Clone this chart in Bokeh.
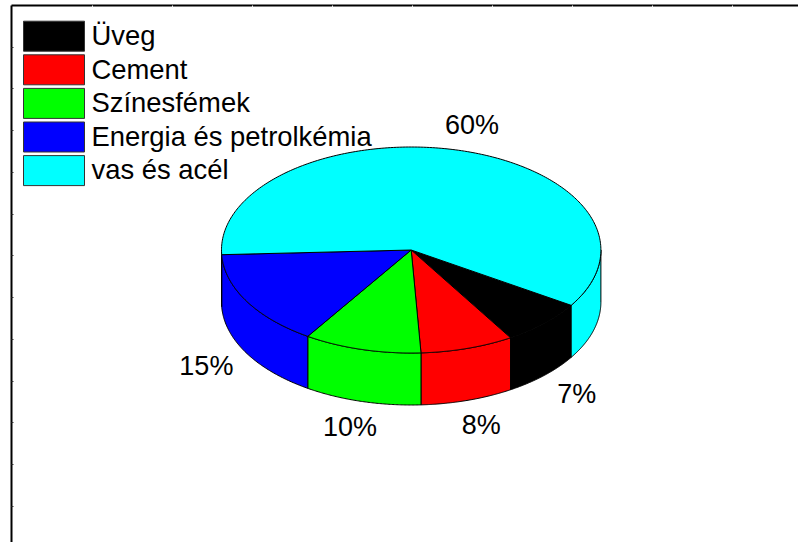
import numpy as np
from bokeh.embed import file_html
from bokeh.resources import INLINE
from bokeh.plotting import figure
from bokeh.models import Range1d, LinearAxis, FixedTicker, ColumnDataSource
from bokeh.core.properties import value

categories = ["Üveg", "Cement", "Színesfémek", "Energia és petrolkémia", "vas és acél"]
shares = [7.2, 7.95, 10.0, 15.1, 59.75]
labels = ["7%", "8%", "10%", "15%", "60%"]
colors = ["#000000", "#ff0000", "#00ff00", "#0000ff", "#00ffff"]

W, H = 798, 542
FRAME_L, FRAME_T = 11, 5
CX, CY, RX, RY, DEPTH = 410.7, 249.5, 189.7, 103, 52
START_DEG = -32.5
LABEL_RX, LABEL_RY = 236, 129
FONT = value("Liberation Sans")

p = figure(width=W, height=H, x_range=Range1d(FRAME_L, W), y_range=Range1d(H, FRAME_T),
           output_backend="svg", toolbar_location=None, x_axis_location=None, y_axis_location=None,
           min_border_left=FRAME_L, min_border_top=FRAME_T, min_border_right=0, min_border_bottom=0,
           outline_line_color=None, background_fill_color="white", border_fill_color="white")
p.grid.visible = False


def frame_axis(ticks, color, tick_len):
    return dict(ticker=FixedTicker(ticks=ticks), major_label_overrides={t: "" for t in ticks},
                major_label_text_font_size="1px", major_label_standoff=0,
                major_tick_in=tick_len, major_tick_out=0, minor_tick_in=0, minor_tick_out=0,
                axis_line_color="black", axis_line_width=2, major_tick_line_color=color)


p.add_layout(LinearAxis(**frame_axis([46.5 + 41.75 * i for i in range(12)], "#333333", 2)), "left")
p.add_layout(LinearAxis(**frame_axis([92 + 80 * i for i in range(9)], "#eeeeee", 2)), "above")


def rim(a0, a1, n=90):
    t = np.radians(np.linspace(a0, a1, n))
    return CX + RX * np.cos(t), CY - RY * np.sin(t)


# wedges run clockwise from the start angle
spans = np.array(shares) / sum(shares) * 360
ends = START_DEG - np.cumsum(spans)
starts = ends + spans
mids = (starts + ends) / 2

# outer wall: only the part of each wedge on the front half of the ellipse
for a0, a1, c in zip(starts, ends, colors):
    for shift in (0, 360, -360):
        hi, lo = min(a0 + shift, 0), max(a1 + shift, -180)
        if hi > lo:
            x, y = rim(hi, lo)
            p.patch(np.r_[x, x[::-1]], np.r_[y, y[::-1] + DEPTH], fill_color=c, line_color="black", line_width=1)

# top face
for a0, a1, c in zip(starts, ends, colors):
    x, y = rim(a0, a1, 240)
    p.patch(np.r_[CX, x], np.r_[CY, y], fill_color=c, line_color="black", line_width=1)

# percentage labels
s = np.sin(np.radians(mids))
lx = CX + LABEL_RX * np.cos(np.radians(mids))
ly = CY - LABEL_RY * s + np.where(s < 0, DEPTH, 0)
p.text(lx, ly, text=labels, text_font=FONT, text_font_size="27px", text_align="center",
       text_baseline="middle", text_color="black")

# legend
rows = np.arange(len(categories))
row_y = 35.7 + 33.6 * rows
src = ColumnDataSource(dict(x=[53.5] * len(rows), y=row_y, ty=row_y - 0.7, c=colors, t=categories,
                            tx=[91] * len(rows)))
p.rect("x", "y", width=61, height=30, fill_color="c", line_color="#333333", line_width=1, source=src)
p.text("tx", "ty", text="t", text_font=FONT, text_font_size="27.4px", text_baseline="middle",
       text_color="black", source=src)

open("out.html", "w").write(file_html(p, INLINE))
